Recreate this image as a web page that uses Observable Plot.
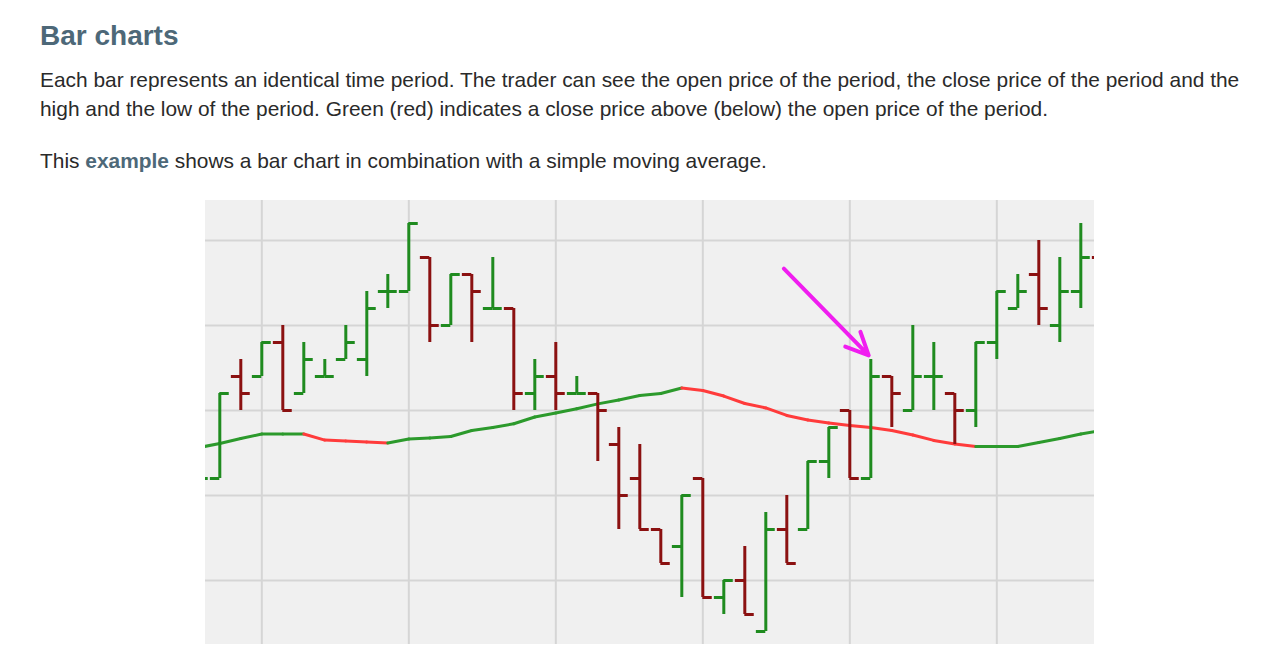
<!DOCTYPE html>
<html><head><meta charset="utf-8">
<script src="https://cdn.jsdelivr.net/npm/d3@7"></script>
<script src="https://cdn.jsdelivr.net/npm/@observablehq/plot@0.6"></script>
<style>
body{margin:0;background:#fff;font-family:"Liberation Sans",Arial,Helvetica,sans-serif;width:1268px;height:659px;position:relative;overflow:hidden}
h2{position:absolute;left:40px;top:22px;margin:0;font-size:28px;line-height:28px;font-weight:bold;color:#4d6878}
.p{position:absolute;left:40px;margin:0;font-size:20.9px;line-height:28.5px;color:#2a2a2a;white-space:nowrap}
#p1{top:66px}
#p2{top:147px}
.p b{color:#4d6878}
#chart{position:absolute;left:205px;top:200px}
</style></head>
<body>
<h2>Bar charts</h2>
<p class="p" id="p1">Each bar represents an identical time period. The trader can see the open price of the period, the close price of the period and the<br>high and the low of the period. Green (red) indicates a close price above (below) the open price of the period.</p>
<p class="p" id="p2">This <b>example</b> shows a bar chart in combination with a simple moving average.</p>
<div id="chart"></div>
<script>
// periods (bar index); -1 and 42 are only partly visible at the edges
const periods = d3.range(-1, 43);
const open  = [105,106,112,112,114,111,112,113,113,117,117,119,115,118,116,116,111,112,111,111,108,106,103,102,106, 99,100, 97,103,103,107,110,106,112,110,112,111,110,114,116,118,115,117,119];
const high  = [107,111,113,114,115,114,113,115,117,118,121,119,118,118,119,116,113,114,112,111,109,108,103,105,106,100,102,104,105,107,109,110,113,112,115,114,111,114,117,118,120,119,121,120];
const low   = [104,106,110,112,110,111,112,113,112,116,117,114,115,114,116,110,110,110,111,107,103,103,101, 99, 99, 98, 98, 97,101,103,106,106,106,109,110,110,108,109,113,116,115,114,116,117];
const close = [106,111,111,114,110,113,112,114,116,117,121,115,118,117,116,111,112,111,111,110,105,103,101,105, 99,100, 98,103,101,107,109,106,112,111,112,112,110,114,117,117,116,117,119,118];
const sma   = [107.82,108.06,108.35,108.62,108.62,108.62,108.26,108.21,108.15,108.09,108.32,108.38,108.47,108.82,109.00,109.22,109.62,109.85,110.10,110.39,110.62,110.88,111.00,111.32,111.18,110.85,110.41,110.15,109.71,109.44,109.26,109.12,109.00,108.82,108.56,108.24,108.03,107.88,107.88,107.88,108.12,108.35,108.62,108.82];
const gridPeriods = [2, 9, 16, 23, 30, 37];
const gridPrices = [100, 105, 110, 115, 120];
const arrowFrom = {period: 26.86, price: 118.34};
const arrowTo = {period: 30.9, price: 113.24};

const UP = "#1f8b1f", DOWN = "#8b1111", MA_UP = "#2c9a2c", MA_DOWN = "#ff3b3b";

const bars = periods.map((p, k) => ({p, o: open[k], h: high[k], l: low[k], c: close[k], col: close[k] >= open[k] ? UP : DOWN}));
const segs = periods.slice(0, -1).map((p, k) => ({p1: p, p2: periods[k + 1], v1: sma[k], v2: sma[k + 1], col: sma[k + 1] >= sma[k] ? MA_UP : MA_DOWN}));
const TW = 0.45;

const chart = Plot.plot({
  width: 889, height: 444, margin: 0,
  style: {background: "#f0f0f0", overflow: "hidden"},
  x: {type: "linear", domain: [-0.681, 41.652], axis: null},
  y: {type: "linear", domain: [96.235, 122.353], axis: null},
  color: {type: "identity"},
  marks: [
    Plot.ruleX(gridPeriods, {x: d => d, stroke: "#d5d5d5", strokeWidth: 2}),
    Plot.ruleY(gridPrices, {y: d => d, stroke: "#d5d5d5", strokeWidth: 2}),
    Plot.link(segs, {x1: "p1", y1: "v1", x2: "p2", y2: "v2", stroke: "col", strokeWidth: 3, strokeLinecap: "round", clip: true}),
    Plot.ruleX(bars, {x: "p", y1: "l", y2: "h", stroke: "col", strokeWidth: 3, clip: true}),
    Plot.ruleY(bars, {y: "o", x1: d => d.p - TW, x2: "p", stroke: "col", strokeWidth: 3, clip: true}),
    Plot.ruleY(bars, {y: "c", x1: "p", x2: d => d.p + TW, stroke: "col", strokeWidth: 3, clip: true}),
    Plot.arrow([arrowFrom], {x1: d => d.period, y1: d => d.price, x2: () => arrowTo.period, y2: () => arrowTo.price, stroke: "#f01df0", strokeWidth: 4, headLength: 9.4, headAngle: 50})
  ]
});
document.getElementById("chart").appendChild(chart);
</script>
</body></html>
